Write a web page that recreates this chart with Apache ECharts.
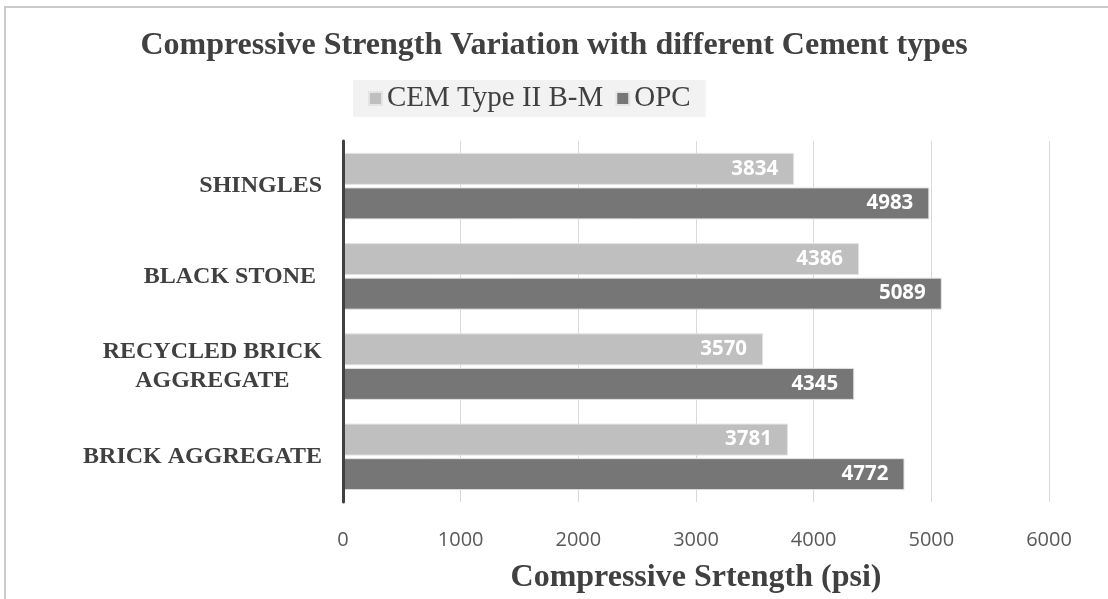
<!DOCTYPE html>
<html>
<head>
<meta charset="utf-8">
<title>Compressive Strength Variation with different Cement types</title>
<script src="https://cdn.jsdelivr.net/npm/echarts@6/dist/echarts.min.js"></script>
<style>
  html, body { margin: 0; padding: 0; background: #ffffff; }
  #wrap { position: relative; width: 1108px; height: 599px; overflow: hidden; }
  #frame {
    position: absolute; left: 4px; top: 6px; width: 1200px; height: 700px;
    border-top: 2px solid #cbcbcb; border-left: 2px solid #cbcbcb;
    box-sizing: border-box; pointer-events: none;
  }
  #chart { position: absolute; left: 0; top: 0; width: 1108px; height: 599px; }
</style>
</head>
<body>
<div id="wrap">
  <div id="chart"></div>
  <div id="frame"></div>
</div>
<script>
// Aggregate types, bottom to top on the category axis
const categories = ['BRICK AGGREGATE', 'RECYCLED BRICK\nAGGREGATE', 'BLACK STONE ', 'SHINGLES'];
// Compressive strength (psi) per cement type
const cemTypeII = [3781, 3570, 4386, 3834];
const opc = [4772, 4345, 5089, 4983];
const seriesNames = ['CEM Type II B-M', 'OPC'];
// Value axis ticks
const axisMin = 0;
const axisMax = 6000;
const axisStep = 1000;

const serif = 'Liberation Serif, Times New Roman, serif';
const sans = 'Open Sans, sans-serif';

const chart = echarts.init(document.getElementById('chart'), null, { renderer: 'canvas' });

const valueLabel = {
  show: true,
  position: 'insideRight',
  distance: 16,
  color: '#ffffff',
  fontFamily: sans,
  fontWeight: 'bold',
  fontSize: 20.5
};

chart.setOption({
  animation: false,
  backgroundColor: 'transparent',
  title: {
    text: 'Compressive Strength Variation with different Cement types',
    left: 'center',
    top: 30,
    padding: 0,
    textStyle: {
      fontFamily: serif,
      fontWeight: 'bold',
      fontSize: 32,
      color: '#404040'
    }
  },
  legend: {
    data: seriesNames,
    left: 353,
    top: 80,
    padding: [4, 15, 4, 15],
    backgroundColor: '#f2f2f2',
    icon: 'rect',
    itemWidth: 13,
    itemHeight: 13,
    itemGap: 12,
    textStyle: {
      fontFamily: serif,
      fontSize: 29,
      color: '#404040'
    }
  },
  grid: {
    left: 343,
    right: 59,
    top: 141,
    bottom: 96.5,
    containLabel: false
  },
  xAxis: {
    type: 'value',
    min: axisMin,
    max: axisMax,
    interval: axisStep,
    name: 'Compressive Srtength (psi)',
    nameLocation: 'middle',
    nameGap: 60,
    nameTextStyle: {
      fontFamily: serif,
      fontWeight: 'bold',
      fontSize: 32,
      color: '#404040'
    },
    axisLine: { show: false },
    axisTick: { show: false },
    axisLabel: {
      margin: 28,
      fontFamily: sans,
      fontSize: 20,
      color: '#595959',
      formatter: function (v) { return String(v); }
    },
    splitLine: { show: true, lineStyle: { color: '#d9d9d9', width: 1 } }
  },
  yAxis: {
    type: 'category',
    data: categories,
    z: 5,
    axisLine: { show: true, lineStyle: { color: '#404040', width: 3 } },
    axisTick: { show: false },
    splitLine: { show: false },
    axisLabel: {
      margin: 21,
      align: 'right',
      formatter: function (v) {
        return v.split('\n').map(function (s) { return '{c|' + s + '}'; }).join('\n');
      },
      rich: {
        c: {
          align: 'center',
          fontFamily: serif,
          fontWeight: 'bold',
          fontSize: 24,
          lineHeight: 29,
          color: '#404040'
        }
      }
    }
  },
  series: [
    {
      name: seriesNames[0],
      type: 'bar',
      data: cemTypeII,
      barWidth: 32,
      barGap: '8%',
      itemStyle: { color: '#bfbfbf', borderColor: '#e4e4e4', borderWidth: 1 },
      label: valueLabel
    },
    {
      name: seriesNames[1],
      type: 'bar',
      data: opc,
      barWidth: 32,
      barGap: '8%',
      itemStyle: { color: '#767676', borderColor: '#e4e4e4', borderWidth: 1 },
      label: valueLabel
    }
  ]
});
</script>
</body>
</html>
